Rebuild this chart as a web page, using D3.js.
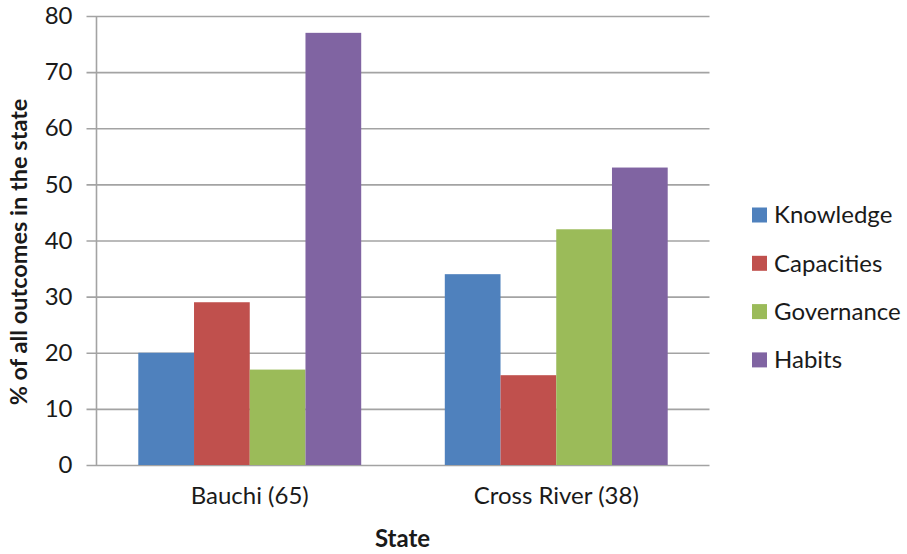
<!DOCTYPE html>
<html>
<head>
<meta charset="utf-8">
<script src="https://cdn.jsdelivr.net/npm/d3@7/dist/d3.min.js"></script>
<style>
  html, body { margin: 0; padding: 0; background: #ffffff; }
  svg { display: block; }
  text { font-family: Lato, "Open Sans", sans-serif; fill: #1a1a1a; }
</style>
</head>
<body>
<svg id="chart" width="907" height="554"></svg>
<script>
// States on the category axis (number of outcomes in parentheses)
const states = ["Bauchi (65)", "Cross River (38)"];
// Outcome types, one bar each per state
const outcomeTypes = ["Knowledge", "Capacities", "Governance", "Habits"];
const seriesColors = ["#4F81BD", "#C0504D", "#9BBB59", "#8064A2"];
// Share of outcomes (%) per type, in state order
const knowledge = [20, 34];
const capacities = [29, 16];
const governance = [17, 42];
const habits = [77, 53];
// Value axis ticks
const yTicks = [0, 10, 20, 30, 40, 50, 60, 70, 80];

const seriesValues = [knowledge, capacities, governance, habits];

const svg = d3.select("#chart");
const plot = { left: 96.5, right: 709.5, top: 16, bottom: 465 };

const x0 = d3.scaleBand().domain(states).range([plot.left, plot.right]).padding(0);
const x1 = d3.scaleBand().domain(outcomeTypes).range([0, x0.bandwidth()])
  .paddingInner(0).paddingOuter(0.75);
const y = d3.scaleLinear().domain([0, 80]).range([plot.bottom, plot.top]);

// Horizontal gridlines, extending a little left of the value axis as ticks
const gy = svg.append("g")
  .attr("transform", `translate(${plot.right},0)`)
  .call(d3.axisLeft(y).tickValues(yTicks).tickSize(plot.right - plot.left + 10).tickFormat(""));
gy.select(".domain").remove();
gy.selectAll(".tick line").attr("stroke", "#a3a3a3").attr("stroke-width", 1.6);

// Tick labels
const gl = svg.append("g")
  .attr("transform", `translate(${plot.left},0)`)
  .call(d3.axisLeft(y).tickValues(yTicks).tickSize(0).tickPadding(24).tickFormat(d3.format("d")));
gl.select(".domain").remove();
gl.selectAll(".tick text")
  .style("font-family", "Lato, 'Open Sans', sans-serif")
  .attr("font-size", 24).attr("fill", "#1a1a1a");

// Vertical value-axis line
svg.append("line")
  .attr("x1", plot.left).attr("x2", plot.left)
  .attr("y1", plot.top).attr("y2", plot.bottom)
  .attr("stroke", "#a3a3a3").attr("stroke-width", 1.6);

// Bars
const groups = svg.append("g").selectAll("g")
  .data(states)
  .join("g")
  .attr("transform", d => `translate(${x0(d)},0)`);

groups.selectAll("rect")
  .data((d, i) => outcomeTypes.map((t, k) => ({ type: t, value: seriesValues[k][i], color: seriesColors[k] })))
  .join("rect")
  .attr("x", d => x1(d.type))
  .attr("y", d => y(d.value))
  .attr("width", x1.bandwidth())
  .attr("height", d => y(0) - y(d.value))
  .attr("fill", d => d.color);

// Category axis labels
const gx = svg.append("g")
  .attr("transform", `translate(0,${plot.bottom})`)
  .call(d3.axisBottom(x0).tickSize(0).tickPadding(22));
gx.select(".domain").remove();
gx.selectAll(".tick text")
  .style("font-family", "Lato, 'Open Sans', sans-serif")
  .attr("font-size", 24).attr("fill", "#1a1a1a");

// Axis titles
svg.append("text")
  .attr("x", 402.5)
  .attr("y", 547)
  .attr("text-anchor", "middle")
  .attr("font-size", 24).attr("font-weight", "bold")
  .text("State");

svg.append("text")
  .attr("transform", "translate(27,252) rotate(-90)")
  .attr("text-anchor", "middle")
  .attr("font-size", 23.5).attr("font-weight", "bold")
  .text("% of all outcomes in the state");

// Legend
const legend = svg.append("g").attr("transform", "translate(752,215)");
const items = legend.selectAll("g")
  .data(outcomeTypes)
  .join("g")
  .attr("transform", (d, i) => `translate(0,${i * 48.3})`);
items.append("rect")
  .attr("x", 0).attr("y", -7.5).attr("width", 15).attr("height", 15)
  .attr("fill", (d, i) => seriesColors[i]);
items.append("text")
  .attr("x", 22).attr("y", 0).attr("dy", "0.35em")
  .attr("font-size", 24)
  .text(d => d);
</script>
</body>
</html>
